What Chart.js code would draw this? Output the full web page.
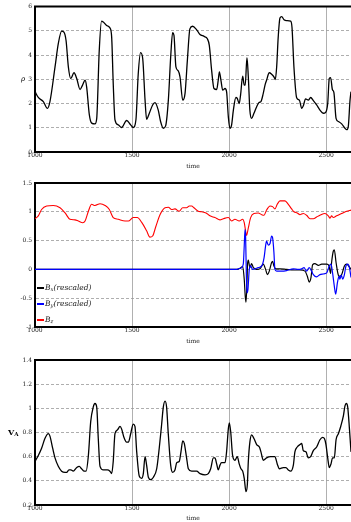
<!DOCTYPE html>
<html>
<head>
<meta charset="utf-8">
<script src="https://cdn.jsdelivr.net/npm/chart.js@4.4.0/dist/chart.umd.min.js"></script>
<style>
  body { margin: 0; background: #fff; width: 351px; height: 522px; overflow: hidden; position: relative; font-family: "DejaVu Serif", serif; }
  canvas { position: absolute; left: 0; }
  .ylab { position: absolute; color: #000; line-height: 1; }
  .leg { position: absolute; left: 37px; font-style: italic; font-size: 7.5px; color: #222; white-space: nowrap; line-height: 1; }
  .leg span.sw { display: inline-block; width: 7px; height: 2px; vertical-align: middle; margin-right: 1px; }
  sub { font-size: 70%; vertical-align: -1px; }
</style>
</head>
<body>
<canvas id="c1" width="351" height="172" style="top:0px"></canvas>
<canvas id="c2" width="351" height="175" style="top:172px"></canvas>
<canvas id="c3" width="351" height="175" style="top:347px"></canvas>
<div class="ylab" style="left:21px; top:76px; font-size:7px; font-style:italic;">ρ</div>
<div class="ylab" style="left:8px; top:428px; font-size:8px; font-weight:bold;">V<sub>A</sub></div>
<div id="legend"></div>
<script>
// density
const rhoTime = [1000,1017,1043,1064,1077,1103,1120,1137,1149,1160,1172,1184,1201,1215,1232,1245,1258,1266,1280,1292,
  1309,1318,1331,1343,1352,1369,1386,1395,1403,1412,1429,1446,1472,1493,1506,1520,1532,1544,1555,1567,
  1575,1589,1606,1618,1635,1647,1661,1673,1687,1699,1709,1716,1726,1738,1747,1761,1773,1785,1798,1812,
  1833,1850,1871,1888,1898,1910,1922,1936,1944,1950,1958,1967,1979,1987,1996,2004,2013,2022,2035,2042,
  2052,2059,2070,2078,2083,2092,2099,2107,2116,2128,2142,2154,2164,2176,2185,2193,2207,2219,2231,2238,
  2245,2253,2262,2271,2283,2296,2317,2324,2334,2348,2362,2374,2382,2394,2408,2420,2434,2451,2468,2485,
  2497,2508,2516,2523,2532,2540,2551,2563,2580,2597,2606,2614,2623,2628];
const rhoVal = [2.49,2.25,2.08,1.80,2.08,3.5,4.47,4.99,4.95,4.6,3.5,3.03,3.27,3.03,2.58,2.76,2.96,2.69,1.53,1.19,
  1.16,1.39,4.19,5.4,5.36,5.22,5.12,4.74,2.83,1.33,1.12,1.01,1.30,1.12,1.01,1.33,3.24,4.1,3.85,2.14,
  1.35,1.6,1.94,2.04,1.73,1.26,0.98,1.08,2.14,3.92,4.92,4.81,3.51,3.35,3.10,2.14,2.42,3.78,5.08,5.19,
  5.04,4.85,4.77,4.67,4.4,3.37,2.62,2.58,2.96,3.31,2.96,2.55,2.62,2.49,1.46,0.98,1.12,1.73,2.25,2.21,
  2.0,2.35,3.13,2.76,2.76,3.89,3.10,1.73,1.39,1.6,1.87,2.04,2.08,2.42,2.76,2.96,3.27,3.21,3.10,2.99,
  3.51,4.74,5.53,5.59,5.46,5.42,5.40,5.15,3.51,2.24,2.14,1.80,1.90,2.19,2.14,2.25,2.12,1.94,1.73,1.6,
  1.63,2.0,3.03,3.07,2.58,2.45,1.39,1.26,1.16,0.98,0.92,1.05,2.14,2.49];

// magnetic field
const bxTime = [1000,2039,2056,2070,2078,2083,2087,2092,2095,2099,2107,2116,2125,2142,2159,2176,2188,2197,2207,2219,
  2224,2231,2241,2262,2296,2331,2365,2391,2403,2413,2422,2430,2442,2460,2477,2503,2515,2523,2528,2537,
  2542,2551,2563,2571,2580,2594,2606,2620,2628];
const bxVal = [0,0,0.02,0.05,-0.17,-0.46,-0.57,-0.23,0.09,0.16,0.03,0.10,0.03,0,0.01,0.09,0,-0.09,-0.03,0.12,
  0.14,0.06,0.01,0.01,0,-0.01,-0.01,-0.03,-0.12,-0.22,-0.14,0.08,0.10,0.07,0.09,0.09,0.06,-0.07,0.12,0.32,
  0.34,0.12,-0.10,-0.12,-0.09,0.06,0.09,0.04,0];
const byTime = [1000,2040,2047,2064,2073,2078,2082,2085,2089,2092,2097,2104,2111,2121,2133,2150,2168,2180,2188,2193,
  2202,2211,2219,2224,2231,2236,2245,2271,2296,2331,2357,2374,2386,2399,2413,2425,2434,2451,2468,2485,
  2503,2516,2525,2533,2542,2549,2558,2566,2571,2578,2585,2594,2602,2611,2620,2628];
const byVal = [0,0,0.01,0.03,0.09,0.41,0.69,0.58,-0.12,-0.41,-0.35,0,0.06,0,0.01,0.03,0.06,0.20,0.41,0.49,
  0.42,0.45,0.58,0.55,0.29,0,-0.03,-0.03,-0.02,0.01,0,0.01,0.03,-0.03,0.03,-0.03,-0.09,-0.13,-0.09,-0.08,
  -0.06,0.06,0.09,-0.06,-0.29,-0.43,-0.23,-0.12,-0.17,-0.10,-0.17,-0.09,0.06,0.09,0.03,-0.14];
const bzTime = [1000,1017,1034,1060,1094,1129,1155,1180,1206,1223,1246,1258,1275,1292,1309,1335,1361,1383,1395,1403,
  1429,1464,1481,1506,1527,1549,1575,1592,1606,1623,1644,1670,1687,1704,1721,1743,1761,1781,1795,1807,
  1819,1841,1858,1881,1901,1927,1953,1970,1996,2013,2030,2052,2070,2078,2085,2090,2099,2111,2128,2150,
  2168,2180,2193,2211,2224,2236,2248,2262,2288,2305,2322,2334,2351,2365,2382,2399,2417,2434,2451,2468,
  2494,2511,2520,2528,2537,2554,2580,2606,2628];
const bzVal = [0.88,0.93,1.04,1.10,1.11,1.07,0.98,0.87,0.86,0.84,0.81,0.84,1.01,1.13,1.11,1.14,1.11,1.04,0.95,0.90,
  0.87,0.84,0.84,0.90,0.90,0.82,0.67,0.56,0.58,0.75,0.95,1.07,1.08,1.04,1.05,1.01,1.07,1.07,1.10,1.10,
  1.07,1.01,1.00,0.98,0.93,0.90,0.86,0.88,0.90,0.84,0.87,0.84,0.87,0.81,0.67,0.59,0.72,0.90,0.97,0.98,
  0.95,0.94,1.03,1.10,1.09,1.05,1.13,1.19,1.19,1.13,1.05,1.00,0.98,0.95,0.97,0.94,0.88,0.88,0.91,0.94,
  0.97,0.93,0.89,0.93,0.90,0.93,0.97,1.01,1.03];

// alfven speed
const vaTime = [1000,1017,1034,1051,1069,1077,1091,1103,1120,1137,1155,1163,1175,1185,1197,1215,1228,1240,1252,1263,
  1275,1287,1300,1309,1318,1326,1335,1352,1373,1386,1395,1403,1412,1424,1438,1446,1458,1472,1481,1493,
  1506,1515,1524,1537,1549,1558,1567,1575,1584,1596,1610,1627,1640,1652,1661,1670,1678,1687,1699,1709,
  1721,1730,1743,1752,1761,1769,1781,1790,1807,1833,1850,1876,1893,1905,1919,1927,1936,1944,1953,1961,
  1979,1987,1996,2001,2008,2018,2030,2042,2052,2061,2070,2078,2087,2094,2099,2107,2116,2128,2142,2156,
  2164,2176,2193,2214,2236,2248,2259,2279,2293,2305,2317,2331,2339,2351,2365,2374,2382,2396,2408,2420,
  2434,2451,2468,2482,2491,2499,2508,2516,2525,2533,2542,2551,2563,2575,2589,2597,2604,2611,2620,2628];
const vaVal = [0.56,0.61,0.67,0.75,0.79,0.77,0.67,0.59,0.52,0.48,0.47,0.47,0.49,0.49,0.48,0.51,0.52,0.50,0.48,0.48,
  0.61,0.89,1.01,1.04,1.01,0.75,0.52,0.49,0.49,0.48,0.46,0.56,0.79,0.82,0.85,0.83,0.76,0.72,0.72,0.79,
  0.87,0.85,0.64,0.44,0.42,0.46,0.60,0.53,0.43,0.41,0.43,0.50,0.67,0.86,1.01,1.06,1.01,0.78,0.53,0.47,
  0.49,0.55,0.56,0.64,0.73,0.71,0.59,0.50,0.48,0.48,0.46,0.45,0.46,0.50,0.59,0.59,0.54,0.49,0.53,0.55,
  0.55,0.64,0.83,0.88,0.81,0.61,0.57,0.60,0.54,0.50,0.48,0.42,0.31,0.37,0.56,0.72,0.78,0.75,0.70,0.68,
  0.64,0.57,0.59,0.60,0.60,0.54,0.50,0.51,0.51,0.49,0.48,0.53,0.64,0.68,0.70,0.71,0.65,0.64,0.59,0.60,
  0.65,0.68,0.74,0.76,0.75,0.70,0.59,0.51,0.54,0.59,0.59,0.74,0.79,0.85,0.94,1.02,1.04,1.01,0.83,0.64];

const xTicks = [1000, 1500, 2000, 2500];
const legendLabels = ['B<sub>x</sub>(rescaled)', 'B<sub>y</sub>(rescaled)', 'B<sub>z</sub>'];

const pts = (t, v) => t.map((x, i) => ({x: x, y: v[i]}));
const tickFont = {family: 'DejaVu Serif', size: 6};

const topFrame = {
    id: 'topFrame',
    afterDraw(chart) {
        const {ctx, chartArea} = chart;
        ctx.save();
        ctx.strokeStyle = '#000';
        ctx.lineWidth = 2;
        ctx.beginPath();
        ctx.moveTo(chartArea.left - 1, chartArea.top);
        ctx.lineTo(chartArea.right, chartArea.top);
        ctx.stroke();
        ctx.restore();
    }
};

function line(data, color, width, order) {
    return {
        data: data,
        borderColor: color,
        borderWidth: width,
        pointRadius: 0,
        cubicInterpolationMode: 'monotone',
        fill: false,
        order: order
    };
}

function makeChart(id, datasets, yMin, yMax, yStep, padTop, xHeight, titlePad) {
    return new Chart(document.getElementById(id), {
        type: 'line',
        data: {datasets: datasets},
        plugins: [topFrame],
        options: {
            responsive: false,
            animation: false,
            layout: {padding: {top: padTop, right: 0, bottom: 0, left: 0}},
            plugins: {legend: {display: false}, tooltip: {enabled: false}},
            scales: {
                x: {
                    type: 'linear',
                    min: 1000,
                    max: 2628,
                    afterBuildTicks: s => { s.ticks = xTicks.map(v => ({value: v})); },
                    afterFit: s => { s.height = xHeight; },
                    ticks: {
                        font: tickFont, color: '#222', padding: 0, maxRotation: 0,
                        callback: v => String(v)
                    },
                    grid: {color: '#b0b0b0', lineWidth: 1, drawTicks: false},
                    border: {color: '#000', width: 2},
                    title: {display: true, text: 'time', font: tickFont, color: '#222', padding: {top: 0, bottom: titlePad}}
                },
                y: {
                    min: yMin,
                    max: yMax,
                    afterFit: s => { s.width = 35; },
                    ticks: {
                        stepSize: yStep, font: tickFont, color: '#222', padding: 3,
                        callback: v => String(+v.toFixed(2))
                    },
                    grid: {color: '#999', lineWidth: 0.8, drawTicks: false},
                    border: {color: '#000', width: 2, dash: [3, 2]}
                }
            }
        }
    });
}

makeChart('c1', [line(pts(rhoTime, rhoVal), '#000', 1.3, 0)], 0, 6, 1, 6, 20, 2.4);

const magChart = makeChart('c2', [
    line(pts(bxTime, bxVal), '#000', 1.2, 1),
    line(pts(byTime, byVal), '#0000ff', 1.2, 0),
    line(pts(bzTime, bzVal), '#ff0000', 1.1, 2)
], -1, 1.5, 0.5, 11, 20, 1.7);

makeChart('c3', [line(pts(vaTime, vaVal), '#000', 1.3, 0)], 0.2, 1.4, 0.2, 13, 17, 0.4);

// html legend for the field panel
const legTops = [284, 300, 316];
const legendBox = document.getElementById('legend');
magChart.data.datasets.forEach((ds, i) => {
    const row = document.createElement('div');
    row.className = 'leg';
    row.style.top = legTops[i] + 'px';
    row.innerHTML = '<span class="sw" style="background:' + ds.borderColor + '"></span>' + legendLabels[i];
    legendBox.appendChild(row);
});
</script>
</body>
</html>
